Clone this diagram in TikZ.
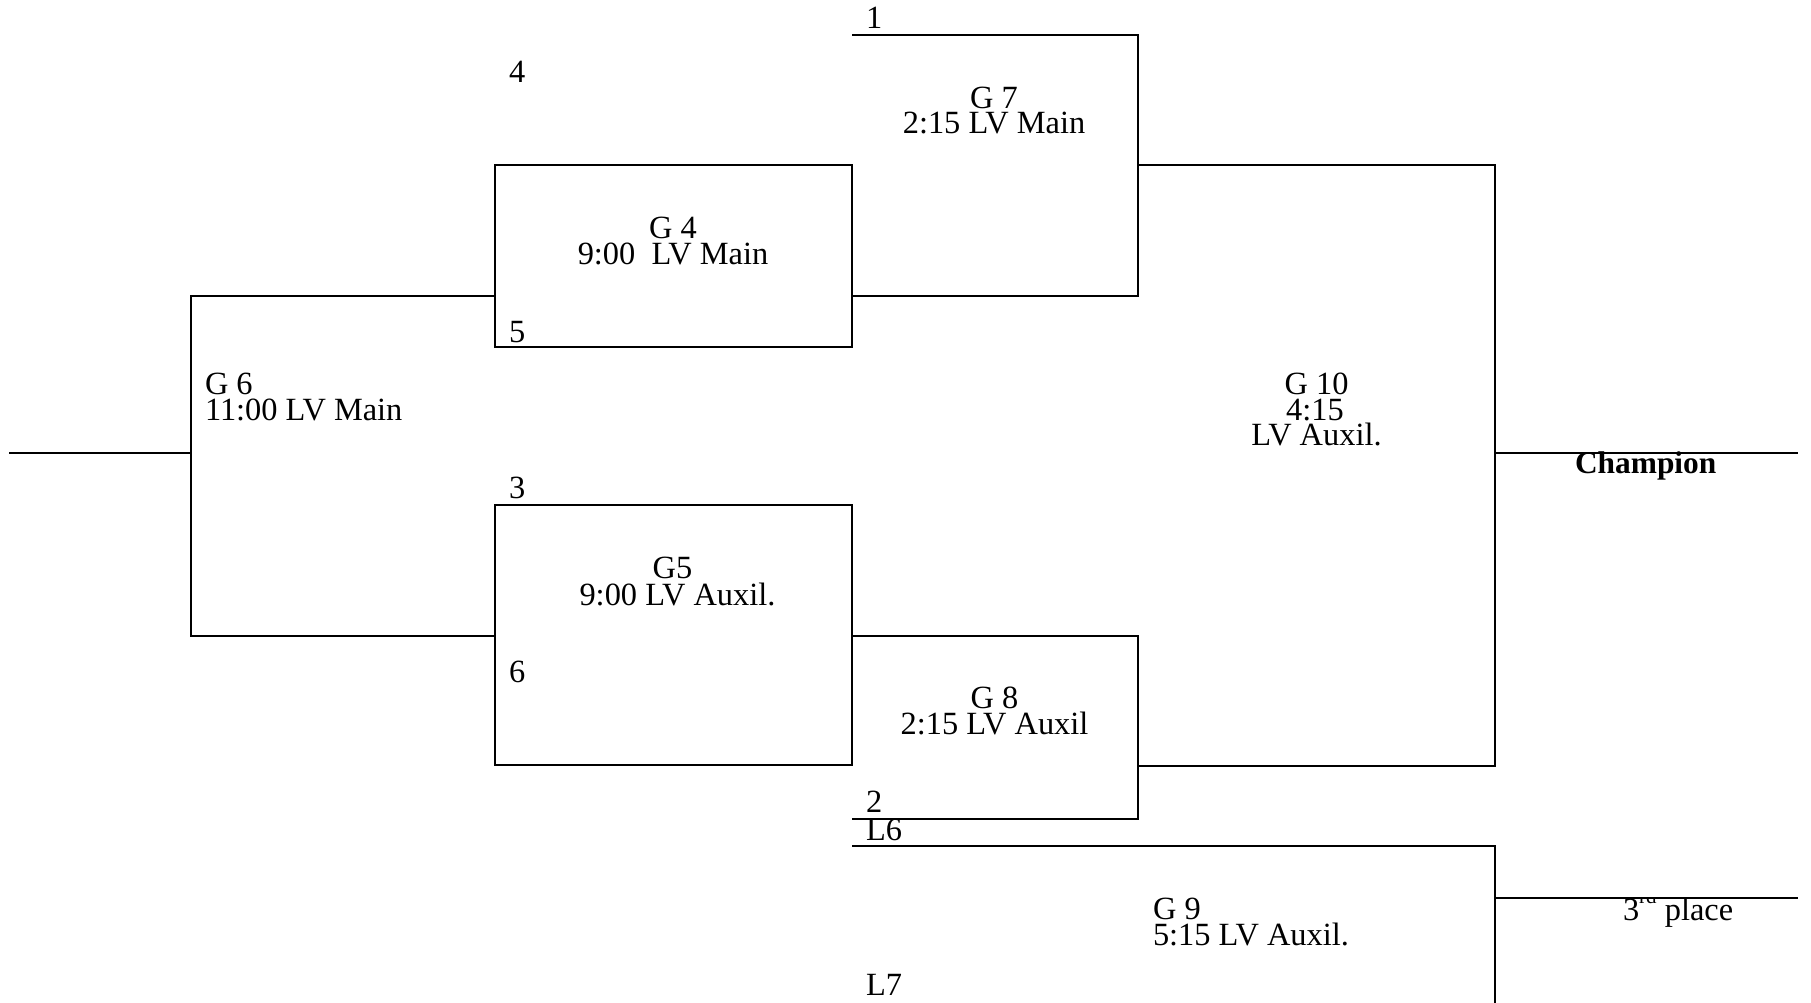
\documentclass[tikz,border=0pt]{standalone}
\usepackage{fontspec}
\setmainfont{Liberation Serif}
\tikzset{
  ln/.style={line width=1.45pt, line join=miter},
  lbl/.style={inner sep=0pt, outer sep=0pt, font=\fontsize{16.2}{13}\selectfont},
  lw/.style={lbl, anchor=base west},
  lc/.style={lbl, anchor=base},
}
\begin{document}
\begin{tikzpicture}[x=0.5pt,y=-0.5pt]
\useasboundingbox (0,0) rectangle (1811,1002);
% corner points
\coordinate (g6out) at (9,453);
\coordinate (g6mid) at (191,453);
\coordinate (g6top) at (191,296);
\coordinate (g6bot) at (191,636);
\coordinate (g4in) at (495,296);
\coordinate (g5in) at (495,636);
\coordinate (g4nw) at (495,165);
\coordinate (g4se) at (852,347);
\coordinate (g5nw) at (495,505);
\coordinate (g5se) at (852,765);
\coordinate (g7a) at (852,35);
\coordinate (g7b) at (1138,35);
\coordinate (g7c) at (1138,296);
\coordinate (g7d) at (852,296);
\coordinate (g10a) at (1138,165);
\coordinate (g10b) at (1495,165);
\coordinate (g10c) at (1495,766);
\coordinate (g10d) at (1138,766);
\coordinate (g8a) at (852,636);
\coordinate (g8b) at (1138,636);
\coordinate (g8c) at (1138,819);
\coordinate (g8d) at (852,819);
\coordinate (champL) at (1495,453);
\coordinate (champR) at (1798,453);
\coordinate (g9a) at (852,846);
\coordinate (g9b) at (1495,846);
\coordinate (g9c) at (1495,1010);
\coordinate (thirdL) at (1495,898);
\coordinate (thirdR) at (1798,898);

% texts
\node[lw] (t1) at (866,28) {1};
\node[lw] (t4) at (509,82) {4};
\node[lw] (t5) at (509,342) {5};
\node[lw] (t3) at (509,498) {3};
\node[lw] (t6) at (509,682) {6};
\node[lw] (t2) at (866,812) {2};
\node[lw] (tL6) at (866,840) {L6};
\node[lw] (tL7) at (866,995) {L7};
\node[lc] (x7a) at (994,108) {G 7};
\node[lc] (x7b) at (994,133) {2:15 LV Main};
\node[lc] (x4a) at (673,238) {G 4};
\node[lc] (x4b) at (673,264) {9:00\ \ LV Main};
\node[lc] (x5a) at (672.5,578) {G5};
\node[lc] (x5b) at (677.5,605) {9:00 LV Auxil.};
\node[lw] (x6a) at (205,394) {G 6};
\node[lw] (x6b) at (205,420) {11:00 LV Main};
\node[lc] (x10a) at (1316.5,394) {G 10};
\node[lc] (x10b) at (1315,420) {4:15};
\node[lc] (x10c) at (1316.5,445) {LV Auxil.};
\node[lc] (x8a) at (994.5,708) {G 8};
\node[lc] (x8b) at (994.5,734) {2:15 LV Auxil};
\node[lw] (x9a) at (1153,919) {G 9};
\node[lw] (x9b) at (1153,945) {5:15 LV Auxil.};
\node[lw, font=\fontsize{15.7}{13}\selectfont\bfseries] (champ) at (1575,473) {Champion};
\begin{scope}
  \clip (1500,899) rectangle (1811,960);
  \node[lw] (third) at (1623,920) {3\raisebox{8.5pt}{\fontsize{10.5}{10}\selectfont rd} place};
\end{scope}

% lines
\draw[ln] (g6out) -- (g6mid);
\draw[ln] (g4in) -- (g6top) -- (g6bot) -- (g5in);
\draw[ln] (g4nw) rectangle (g4se);
\draw[ln] (g5nw) rectangle (g5se);
\draw[ln] (g7a) -- (g7b) -- (g7c) -- (g7d);
\draw[ln] (g10a) -- (g10b) -- (g10c) -- (g10d);
\draw[ln] (g8a) -- (g8b) -- (g8c) -- (g8d);
\draw[ln] (champL) -- (champR);
\draw[ln] (g9a) -- (g9b) -- (g9c);
\draw[ln] (thirdL) -- (thirdR);
\end{tikzpicture}
\end{document}
